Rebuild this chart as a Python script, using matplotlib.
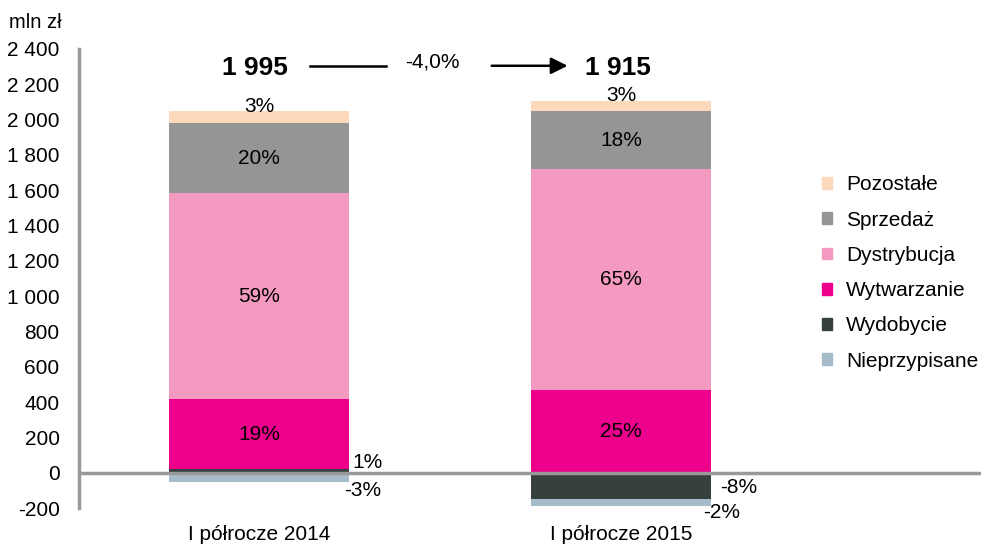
import numpy as np
import matplotlib.pyplot as plt

plt.rcParams['font.family'] = ['Liberation Sans', 'DejaVu Sans']

periods = ['I półrocze 2014', 'I półrocze 2015']
totals = ['1 995', '1 915']
change = '-4,0%'

# legend order (top to bottom)
segments = ['Pozostałe', 'Sprzedaż', 'Dystrybucja', 'Wytwarzanie', 'Wydobycie', 'Nieprzypisane']
colors = ['#fdd9bb', '#959595', '#f49ac1', '#ec008c', '#373f3f', '#a7bccb']
values = {
    'Wydobycie': [20, -150],
    'Nieprzypisane': [-52, -40],
    'Wytwarzanie': [397, 468],
    'Dystrybucja': [1165, 1253],
    'Sprzedaż': [397, 326],
    'Pozostałe': [68, 57],
}
shares = {
    'Nieprzypisane': ['-3%', '-2%'],
    'Wydobycie': ['1%', '-8%'],
    'Wytwarzanie': ['19%', '25%'],
    'Dystrybucja': ['59%', '65%'],
    'Sprzedaż': ['20%', '18%'],
    'Pozostałe': ['3%', '3%'],
}
yticks = list(range(-200, 2401, 200))

stack_order = ['Wydobycie', 'Nieprzypisane', 'Wytwarzanie', 'Dystrybucja', 'Sprzedaż', 'Pozostałe']
color_of = dict(zip(segments, colors))

fig = plt.figure(figsize=(9.81, 5.46), dpi=100)
ax = fig.add_axes([79 / 981, 1 - 508 / 546, 1 - 79 / 981, (508 - 49) / 546])

x = np.arange(len(periods))
w = 0.497
pos_base = np.zeros(len(x))
neg_base = np.zeros(len(x))
boxes = {}
for seg in stack_order:
    v = np.array(values[seg], dtype=float)
    bottom = np.where(v >= 0, pos_base, neg_base)
    ax.bar(x, v, w, bottom=bottom, color=color_of[seg], edgecolor='none', zorder=2)
    boxes[seg] = (bottom, bottom + v)
    pos_base = np.where(v >= 0, pos_base + v, pos_base)
    neg_base = np.where(v < 0, neg_base + v, neg_base)

fs = 15
for i in range(len(x)):
    for seg in ['Wytwarzanie', 'Dystrybucja', 'Sprzedaż']:
        b, t = boxes[seg]
        ax.text(x[i], (b[i] + t[i]) / 2, shares[seg][i], ha='center', va='center', fontsize=fs)
    b, t = boxes['Pozostałe']
    ax.text(x[i], t[i] + 30, shares['Pozostałe'][i], ha='center', va='center', fontsize=fs)

# small segments labelled to the right of the bars
ax.text(0.257, 60, shares['Wydobycie'][0], ha='left', va='center', fontsize=fs)
ax.text(0.235, -100, shares['Nieprzypisane'][0], ha='left', va='center', fontsize=fs)
ax.text(1.273, -85, shares['Wydobycie'][1], ha='left', va='center', fontsize=fs)
ax.text(1.227, -225, shares['Nieprzypisane'][1], ha='left', va='center',
        fontsize=fs, clip_on=False)

# totals and change arrow
ytot = 2290
for i in range(len(x)):
    ax.text(x[i] - 0.01, ytot, totals[i], ha='center', va='center', fontsize=19, fontweight='bold')
ax.plot([0.14, 0.35], [ytot + 15, ytot + 15], color='black', lw=1.8)
ax.annotate('', xy=(0.86, ytot + 15), xytext=(0.635, ytot + 15),
            arrowprops=dict(arrowstyle='-|>', color='black', lw=1.8, mutation_scale=25))
ax.text(0.48, ytot + 35, change, ha='center', va='center', fontsize=fs)

ax.set_xlim(-0.497, 1.994)
ax.set_ylim(-200, 2400)
ax.set_yticks(yticks)
ax.set_yticklabels([f'{t:,}'.replace(',', ' ') for t in yticks], fontsize=fs)
ax.set_xticks(x)
ax.set_xticklabels(periods, fontsize=fs)
ax.tick_params(axis='y', length=0, pad=14)
ax.tick_params(axis='x', length=0, pad=12)
for s in ['top', 'right', 'bottom']:
    ax.spines[s].set_visible(False)
ax.spines['left'].set_color('#999999')
ax.spines['left'].set_linewidth(2.5)
ax.axhline(0, color='#999999', lw=2.5, zorder=3)
fig.text(35 / 981, 1 - 22 / 546, 'mln zł', ha='center', va='center', fontsize=14.5)

handles = [plt.Rectangle((0, 0), 1, 1, color=c) for c in colors]
leg = fig.legend(handles, segments, loc='center left', bbox_to_anchor=(822 / 981, 1 - 273 / 546),
                 frameon=False, fontsize=fs, handlelength=0.5, handleheight=0.5,
                 labelspacing=0.78, handletextpad=0.65, borderpad=0, borderaxespad=0)

fig.savefig('out.png', dpi=100)
